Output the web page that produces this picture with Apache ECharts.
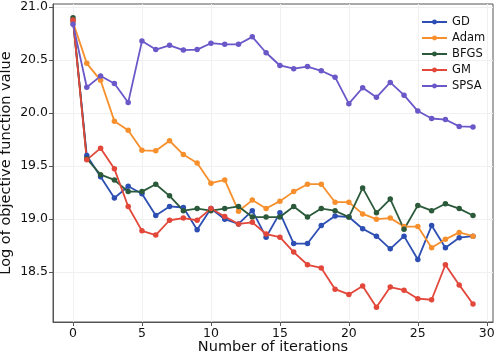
<!DOCTYPE html>
<html>
<head>
<meta charset="utf-8">
<script src="https://cdn.jsdelivr.net/npm/echarts@6/dist/echarts.min.js"></script>
<style>
  html, body { margin: 0; padding: 0; background: #fff; }
  #chart { width: 500px; height: 356px; }
</style>
</head>
<body>
<div id="chart"></div>
<script>
const iterations = Array.from({ length: 30 }, (_, i) => i);
const xTicks = [0, 5, 10, 15, 20, 25, 30];
const yTicks = [18.5, 19.0, 19.5, 20.0, 20.5, 21.0];

const gd = [20.87, 19.60, 19.40, 19.20, 19.31, 19.24, 19.035, 19.12, 19.11, 18.90,
  19.10, 19.00, 18.955, 19.08, 18.83, 19.06, 18.77, 18.77, 18.94, 19.03,
  19.02, 18.91, 18.84, 18.72, 18.84, 18.62, 18.94, 18.73, 18.825, 18.84];
const adam = [20.86, 20.47, 20.31, 19.925, 19.84, 19.65, 19.645, 19.74, 19.61, 19.53,
  19.34, 19.37, 19.075, 19.18, 19.10, 19.17, 19.26, 19.33, 19.33, 19.16,
  19.16, 19.05, 19.00, 19.01, 18.93, 18.93, 18.73, 18.81, 18.875, 18.84];
const bfgs = [20.90, 19.57, 19.42, 19.37, 19.26, 19.26, 19.33, 19.22, 19.08, 19.10,
  19.08, 19.10, 19.12, 19.02, 19.02, 19.02, 19.12, 19.02, 19.10, 19.08,
  19.02, 19.295, 19.06, 19.19, 18.905, 19.13, 19.08, 19.145, 19.10, 19.035];
const gm = [20.88, 19.56, 19.67, 19.475, 19.12, 18.89, 18.85, 18.99, 19.01, 18.99,
  19.10, 19.025, 18.955, 18.97, 18.86, 18.83, 18.69, 18.57, 18.54, 18.34,
  18.29, 18.37, 18.17, 18.36, 18.33, 18.25, 18.24, 18.57, 18.38, 18.20];
const spsa = [20.84, 20.245, 20.35, 20.28, 20.10, 20.68, 20.60, 20.64, 20.595, 20.60,
  20.66, 20.65, 20.65, 20.72, 20.57, 20.45, 20.42, 20.44, 20.40, 20.34,
  20.09, 20.24, 20.15, 20.29, 20.17, 20.02, 19.95, 19.94, 19.875, 19.87];

const seriesDefs = [
  { name: 'GD', data: gd, color: '#2d4fb3' },
  { name: 'Adam', data: adam, color: '#f7902c' },
  { name: 'BFGS', data: bfgs, color: '#2b5a3a' },
  { name: 'GM', data: gm, color: '#e2473a' },
  { name: 'SPSA', data: spsa, color: '#6a58c9' }
];

const font = 'DejaVu Sans';
const chart = echarts.init(document.getElementById('chart'));

const option = {
  animation: false,
  backgroundColor: '#fff',
  grid: {
    left: 53, right: 7, top: 4, bottom: 34,
    outerBoundsMode: 'none',
    show: true, borderColor: '#555', borderWidth: 1
  },
  legend: {
    orient: 'vertical',
    left: 416, top: 11,
    itemWidth: 25, itemHeight: 6, itemGap: 4,
    textStyle: { fontFamily: font, fontSize: 11.5, color: '#111' },
    data: seriesDefs.map(s => s.name)
  },
  xAxis: {
    type: 'value',
    min: -1.45, max: 30.45,
    name: 'Number of iterations',
    nameLocation: 'middle', nameGap: 18,
    nameMoveOverlap: false,
    nameTextStyle: { fontFamily: font, fontSize: 14.5, color: '#111', verticalAlign: 'top' },
    axisLine: { show: true, onZero: false, lineStyle: { color: '#555' } },
    axisTick: { show: true, length: 4, customValues: xTicks, lineStyle: { color: '#555' } },
    axisLabel: { customValues: xTicks, fontFamily: font, fontSize: 12.5, color: '#111', margin: 5 },
    splitLine: { show: true, lineStyle: { color: '#f0f0f0' } }
  },
  yAxis: {
    type: 'value',
    min: 18.03, max: 21.03,
    name: 'Log of objective function value',
    nameLocation: 'middle', nameGap: 39,
    nameMoveOverlap: false,
    nameTextStyle: { fontFamily: font, fontSize: 14.5, color: '#111' },
    axisLine: { show: true, onZero: false, lineStyle: { color: '#555' } },
    axisTick: { show: true, length: 4, customValues: yTicks, lineStyle: { color: '#555' } },
    axisLabel: {
      customValues: yTicks, fontFamily: font, fontSize: 12.5, color: '#111', margin: 5,
      formatter: v => v.toFixed(1)
    },
    splitLine: { show: true, lineStyle: { color: '#f0f0f0' } }
  },
  series: seriesDefs.map(s => ({
    name: s.name,
    type: 'line',
    data: s.data.map((v, i) => [iterations[i], v]),
    symbol: 'circle',
    symbolSize: 5.5,
    color: s.color,
    lineStyle: { width: 1.8, color: s.color },
    itemStyle: { color: s.color }
  }))
};

chart.setOption(option);
</script>
</body>
</html>
